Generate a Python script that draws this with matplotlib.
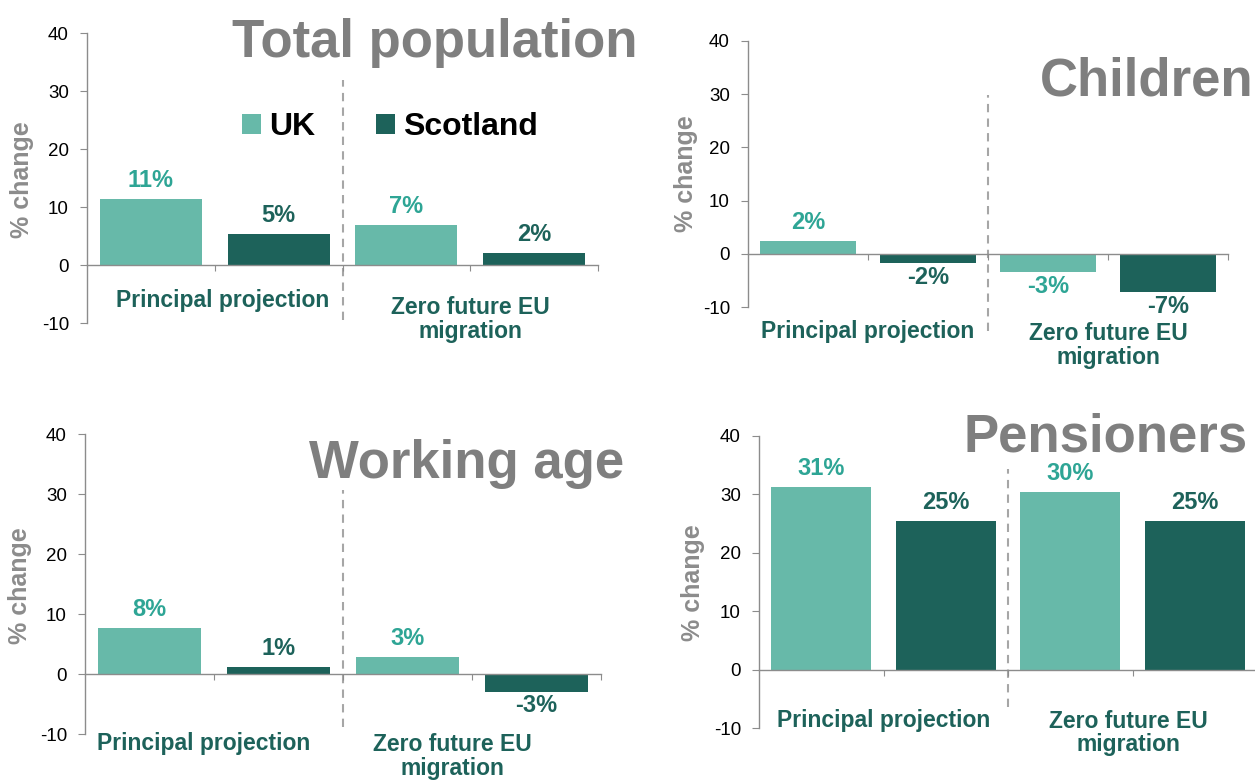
import matplotlib
matplotlib.use("Agg")
import matplotlib.pyplot as plt

plt.rcParams['font.family'] = ['Liberation Sans', 'DejaVu Sans']
plt.rcParams['axes.unicode_minus'] = False

# ---- data -------------------------------------------------------------
series = ["UK", "Scotland"]
scenarios = ["Principal projection", "Zero future EU\nmigration"]
panel_titles = ["Total population", "Children", "Working age", "Pensioners"]

total_uk = [11.4, 7.0]
total_scot = [5.4, 2.2]
children_uk = [2.4, -3.4]
children_scot = [-1.7, -7.2]
working_uk = [7.8, 2.9]
working_scot = [1.3, -2.9]
pension_uk = [31.3, 30.4]
pension_scot = [25.4, 25.4]

y_ticks = [-10, 0, 10, 20, 30, 40]

# ---- style ------------------------------------------------------------
UK_BAR = "#67b9a9"
SCOT_BAR = "#1d625a"
UK_TXT = "#2ea595"
SCOT_TXT = "#1d625a"
TITLE_GREY = "#7f7f7f"
AXIS_GREY = "#8c8c8c"

W, H = 1255, 780
fig = plt.figure(figsize=(W / 100, H / 100), dpi=100)


def px_axes(left, right, top, bottom):
    return fig.add_axes([left / W, 1 - bottom / H, (right - left) / W, (bottom - top) / H])


# per-panel layout: axes box in pixels, title anchor, y-label anchor,
# scenario label positions (x, y in data units), divider extent
panels = [
    dict(box=(87, 598, 33.3, 323.3), title=(638, 57), ylab=(22, 180),
         lab=[(0.56, -6.0), (2.5, -9.3)], div=(-9.4, 31.9),
         uk=total_uk, scot=total_scot, legend=True),
    dict(box=(748, 1228, 40.7, 307.3), title=(1253, 96), ylab=(686, 174),
         lab=[(0.5, -14.5), (2.5, -17.1)], div=(-14.5, 29.9),
         uk=children_uk, scot=children_scot, legend=False),
    dict(box=(85, 601, 434.3, 734.3), title=(624, 478), ylab=(20, 586),
         lab=[(0.42, -11.5), (2.35, -13.7)], div=(-8.7, 30.7),
         uk=working_uk, scot=working_scot, legend=False),
    dict(box=(759, 1257, 435.7, 728.3), title=(1248, 451), ylab=(693, 583),
         lab=[(0.5, -8.6), (2.47, -10.8)], div=(-6.4, 34.3),
         uk=pension_uk, scot=pension_scot, legend=False),
]

uk_x = [0, 2]
scot_x = [1, 3]

for name, p in zip(panel_titles, panels):
    ax = px_axes(*p["box"])
    ax.set_xlim(-0.5, 3.5)
    ax.set_ylim(-10, 40)

    b_uk = ax.bar(uk_x, p["uk"], width=0.8, color=UK_BAR, zorder=2, label=series[0])
    b_sc = ax.bar(scot_x, p["scot"], width=0.8, color=SCOT_BAR, zorder=2, label=series[1])

    for bars, vals, col in ((b_uk, p["uk"], UK_TXT), (b_sc, p["scot"], SCOT_TXT)):
        for rect, v in zip(bars, vals):
            ax.annotate(f"{v:.0f}%",
                        xy=(rect.get_x() + rect.get_width() / 2, v),
                        xytext=(0, 5 if v >= 0 else -2), textcoords="offset points",
                        ha="center", va="bottom" if v >= 0 else "top",
                        fontsize=17, fontweight="bold", color=col)

    # axes styling
    for s in ("top", "right"):
        ax.spines[s].set_visible(False)
    ax.spines["left"].set_color(AXIS_GREY)
    ax.spines["bottom"].set_color(AXIS_GREY)
    ax.spines["bottom"].set_position(("data", 0))
    ax.spines["left"].set_linewidth(1.0)
    ax.spines["bottom"].set_linewidth(1.0)
    ax.set_yticks(y_ticks)
    ax.set_xticks([0.5, 1.5, 2.5, 3.5])
    ax.set_xticklabels([])
    ax.tick_params(axis="y", direction="out", length=5, color=AXIS_GREY,
                   labelsize=13.5, labelcolor="black", pad=8)
    ax.tick_params(axis="x", direction="out", length=4, color=AXIS_GREY)
    ax.patch.set_alpha(0)

    # divider between scenarios
    ax.plot([1.5, 1.5], p["div"], color="#a6a6a6", lw=1.5, ls=(0, (4, 3)),
            clip_on=False, zorder=1)

    # scenario labels
    for (lx, ly), txt in zip(p["lab"], scenarios):
        ax.text(lx, ly, txt, ha="center", va="center", fontsize=16.5,
                fontweight="bold", color=SCOT_TXT, linespacing=1.05, clip_on=False)

    # panel title
    tx, ty = p["title"]
    fig.text(tx / W, 1 - ty / H, name, ha="right", va="baseline",
             fontsize=38, fontweight="bold", color=TITLE_GREY)

    # y label
    yx, yy = p["ylab"]
    fig.text(yx / W, 1 - yy / H, "% change", rotation=90, ha="center", va="center",
             fontsize=18, fontweight="bold", color=AXIS_GREY)

    if p["legend"]:
        ax.legend(handles=[b_uk, b_sc], loc="center", bbox_to_anchor=(0.593, 0.676),
                  ncol=2, frameon=False, handlelength=0.6, handleheight=0.6,
                  handletextpad=0.25, columnspacing=1.9,
                  prop={"size": 23, "weight": "bold"})

fig.savefig("out.png", dpi=100)
